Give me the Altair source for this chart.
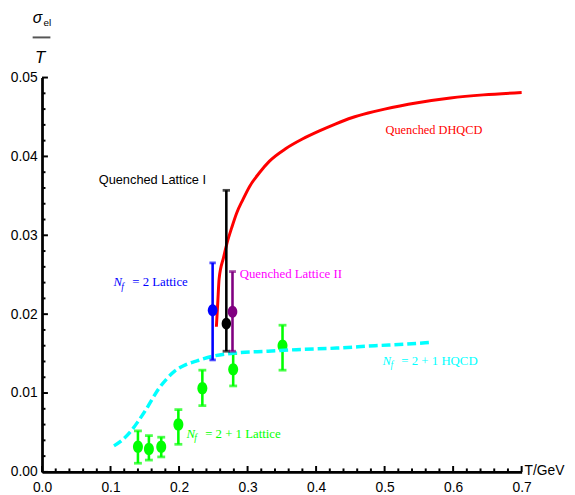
import altair as alt
import pandas as pd

# ---- data ----
# N_f = 2+1 lattice (green)
lat21_T = [0.140, 0.156, 0.174, 0.199, 0.234, 0.279, 0.351]
lat21_s = [0.0032, 0.0029, 0.0032, 0.0060, 0.0106, 0.0130, 0.0160]
lat21_lo = [0.0011, 0.0015, 0.0019, 0.0035, 0.0084, 0.0109, 0.0129]
lat21_hi = [0.0052, 0.0046, 0.0044, 0.0079, 0.0129, 0.0150, 0.0186]

# N_f = 2 lattice (blue)
nf2_T = [0.249]
nf2_s = [0.0205]
nf2_lo = [0.0142]
nf2_hi = [0.0265]

# Quenched lattice I (black)
q1_T = [0.269]
q1_s = [0.0188]
q1_lo = [0.0153]
q1_hi = [0.0357]

# Quenched lattice II (purple)
q2_T = [0.278]
q2_s = [0.0203]
q2_lo = [0.0153]
q2_hi = [0.0254]

# Quenched DHQCD curve (red)
dh_T = [0.2545, 0.2565, 0.2585, 0.265, 0.270, 0.277, 0.284, 0.293, 0.303, 0.317,
        0.332, 0.356, 0.380, 0.404, 0.428, 0.452, 0.476, 0.500, 0.548, 0.596, 0.644, 0.700]
dh_s = [0.0184, 0.0215, 0.0245, 0.0272, 0.0290, 0.0310, 0.0328, 0.0345, 0.0362, 0.0379,
        0.0394, 0.0410, 0.0422, 0.0432, 0.0441, 0.0449, 0.0455, 0.0460, 0.0468, 0.0474, 0.0478, 0.0481]

# N_f = 2+1 HQCD curve (cyan)
hq_T = [0.105, 0.118, 0.131, 0.141, 0.151, 0.160, 0.170, 0.182, 0.194, 0.210,
        0.227, 0.251, 0.285, 0.330, 0.371, 0.430, 0.486, 0.530, 0.565]
hq_s = [0.0033, 0.0041, 0.0053, 0.0065, 0.0078, 0.0091, 0.0105, 0.0118, 0.0128, 0.0136,
        0.0141, 0.0147, 0.0151, 0.0153, 0.0155, 0.0157, 0.0160, 0.0162, 0.0164]

# axis ticks
x_major = [0.0, 0.1, 0.2, 0.3, 0.4, 0.5, 0.6, 0.7]
y_major = [0.00, 0.01, 0.02, 0.03, 0.04, 0.05]
x_minor = [round(i * 0.02, 2) for i in range(36) if i % 5 != 0]
y_minor = [round(i * 0.002, 3) for i in range(26) if i % 5 != 0]

W, H = 486.5, 400
SANS = "Liberation Sans"
SERIF = "Liberation Serif"

xs = alt.Scale(domain=[0, 0.7], nice=False, zero=False)
ys = alt.Scale(domain=[0, 0.05], nice=False, zero=False)

AX_X = alt.Axis(values=x_major, format=".1f", ticks=False, grid=False, title=None,
                domainColor="black", domainWidth=2.8, labelFont=SANS, labelFontSize=14,
                labelColor="black", labelPadding=9, labelFlush=False)
AX_Y = alt.Axis(values=y_major, format=".2f", ticks=False, grid=False, title=None,
                domainColor="black", domainWidth=2.8, labelFont=SANS, labelFontSize=14,
                labelColor="black", labelPadding=5, labelFlush=False)

ELLIPSE = "M0,-1A0.8,1 0 1,1 0,1A0.8,1 0 1,1 0,-1Z"


def X(f="T"):
    return alt.X(f"{f}:Q", scale=xs, axis=AX_X, title=None)


def Y(f="s"):
    return alt.Y(f"{f}:Q", scale=ys, axis=AX_Y, title=None)


def errpoints(T, s, lo, hi, color, cap=8, msize=159):
    df = pd.DataFrame({"T": T, "s": s, "lo": lo, "hi": hi})
    base = alt.Chart(df)
    stem = base.mark_rule(color=color, strokeWidth=2.6).encode(x=X(), y=Y("lo"), y2="hi:Q")
    cap_lo = base.mark_tick(color=color, orient="horizontal", size=cap, thickness=2.8).encode(x=X(), y=Y("lo"))
    cap_hi = base.mark_tick(color=color, orient="horizontal", size=cap, thickness=2.8).encode(x=X(), y=Y("hi"))
    pt = base.mark_point(shape=ELLIPSE, filled=True, opacity=1, color=color, size=msize).encode(x=X(), y=Y())
    return [stem, cap_lo, cap_hi, pt]


def text_at(T, s, txt, color, font=SERIF, size=13, style="normal", align="left", dx=0, dy=0):
    df = pd.DataFrame({"T": [T], "s": [s], "t": [txt]})
    return alt.Chart(df).mark_text(
        font=font, fontSize=size, fontStyle=style, color=color, align=align,
        baseline="alphabetic", dx=dx, dy=dy
    ).encode(x=X(), y=Y(), text="t:N")


def nf_label(T, s, rest, color):
    return [
        text_at(T, s, "N", color, style="italic"),
        text_at(T, s, "f", color, size=9.5, style="italic", dx=8, dy=3.5),
        text_at(T, s, rest, color, dx=19),
    ]


def pix_text(x, y, txt, size, style="normal", font=SANS, align="left", baseline="alphabetic"):
    df = pd.DataFrame({"t": [txt]})
    return alt.Chart(df).mark_text(
        font=font, fontSize=size, fontStyle=style, color="black", align=align, baseline=baseline
    ).encode(x=alt.value(x), y=alt.value(y), text="t:N")


# axes (labels + domain) from the scales
axes = alt.Chart(pd.DataFrame({"T": [0.0, 0.7], "s": [0.0, 0.05]})).mark_point(opacity=0).encode(
    x=X(), y=Y())

# inward ticks
xt_major = alt.Chart(pd.DataFrame({"T": x_major})).mark_rule(color="black", strokeWidth=2).encode(
    x=X(), y=alt.value(H), y2=alt.value(H - 6))
xt_minor = alt.Chart(pd.DataFrame({"T": x_minor})).mark_rule(color="black", strokeWidth=2).encode(
    x=X(), y=alt.value(H), y2=alt.value(H - 3.5))
yt_major = alt.Chart(pd.DataFrame({"s": y_major})).mark_rule(color="black", strokeWidth=2).encode(
    y=Y(), x=alt.value(0), x2=alt.value(6))
yt_minor = alt.Chart(pd.DataFrame({"s": y_minor})).mark_rule(color="black", strokeWidth=2).encode(
    y=Y(), x=alt.value(0), x2=alt.value(3.5))

# curves
dh = alt.Chart(pd.DataFrame({"T": dh_T, "s": dh_s})).mark_line(
    color="#ff0000", strokeWidth=3, interpolate="monotone").encode(x=X(), y=Y())
hq = alt.Chart(pd.DataFrame({"T": hq_T, "s": hq_s})).mark_line(
    color="#00ffff", strokeWidth=3.5, strokeDash=[9, 4], interpolate="monotone").encode(x=X(), y=Y())

layers = [axes, xt_major, xt_minor, yt_major, yt_minor]
layers += errpoints(lat21_T, lat21_s, lat21_lo, lat21_hi, "#00ff00")
layers += [hq, dh]
layers += errpoints(nf2_T, nf2_s, nf2_lo, nf2_hi, "#0000ff", cap=6.5, msize=150)
layers += errpoints(q1_T, q1_s, q1_lo, q1_hi, "#000000", cap=7.5, msize=140)
layers += errpoints(q2_T, q2_s, q2_lo, q2_hi, "#800080", cap=7, msize=150)

# annotations
layers.append(text_at(0.572, 0.0428, "Quenched DHQCD", "#ff0000", size=12.5, align="center"))
layers.append(text_at(0.0827, 0.03656, "Quenched Lattice I", "#000000", font=SANS, size=13))
layers.append(text_at(0.2885, 0.02456, "Quenched Lattice II", "#ff00ff"))
layers += nf_label(0.1043, 0.02356, "= 2 Lattice", "#0000ff")
layers += nf_label(0.2108, 0.00431, "= 2 + 1 Lattice", "#00ff00")
layers += nf_label(0.4971, 0.01356, "= 2 + 1 HQCD", "#00ffff")

# axis titles
layers.append(pix_text(-4.5, -55, "σ", 16, style="italic", align="center"))
layers.append(pix_text(1.5, -52.5, "el", 10))
layers.append(alt.Chart(pd.DataFrame({"a": [0]})).mark_rule(color="#555555", strokeWidth=2).encode(
    x=alt.value(-9.5), x2=alt.value(8.5), y=alt.value(-40.7)))
layers.append(pix_text(-2, -15, "T", 17, style="italic", align="center"))
layers.append(pix_text(489.5, 399, "T/GeV", 14, baseline="middle"))

chart = alt.layer(*layers).properties(
    width=W, height=H,
    padding={"left": 34.5, "top": 67, "right": 46, "bottom": 28},
    autosize=alt.AutoSizeParams(type="none"),
    background="white",
).configure_view(stroke=None)

chart.save("out.html", embed_options={"renderer": "svg", "actions": False})
